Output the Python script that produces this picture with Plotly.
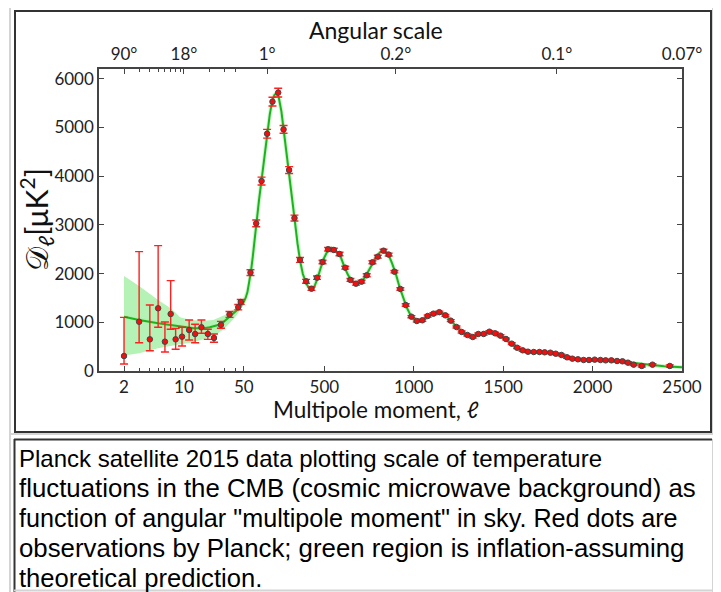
import numpy as np
import plotly.graph_objects as go

# ---------------- data ----------------
ell_low = [2, 3, 4, 5, 6, 7, 8, 9.5, 11.5, 13.5, 16, 19, 22.4, 27, 34, 43, 46]
D_low = [308, 1012, 650, 1287, 602, 1170, 650, 705, 842, 760, 897, 760, 678, 948, 1160, 1310, 1417]
err_low_up = [792, 1438, 705, 1286, 404, 685, 226, 192, 205, 199, 150, 96, 82, 70, 60, 55, 50]
err_low_dn = [164, 431, 233, 390, 212, 314, 205, 192, 205, 179, 123, 110, 88, 70, 60, 55, 50]

ell_high = [87, 119, 149, 180, 210, 242, 272, 303, 333, 364,
            398, 428, 459, 490, 521, 553, 585, 617, 646, 677,
            708, 737, 769, 799, 831, 860, 892, 925, 955, 987,
            1017, 1048, 1078, 1110, 1143, 1177, 1207, 1239, 1268, 1300,
            1330, 1361, 1391, 1423, 1455, 1485, 1516, 1548, 1578, 1609,
            1639, 1671, 1703, 1732, 1764, 1794, 1826, 1857, 1887, 1918,
            1950, 1980, 2012, 2044, 2073, 2105, 2137, 2167, 2198, 2230,
            2275, 2335, 2432]
D_high = [2020, 3030, 3900, 4870, 5530, 5715, 4960, 4125, 3140, 2280,
          1842, 1690, 1916, 2238, 2499, 2485, 2402, 2121, 1869, 1793,
          1834, 1965, 2232, 2347, 2470, 2390, 2039, 1684, 1355, 1115,
          1027, 1041, 1129, 1177, 1208, 1143, 1034, 903, 801, 739,
          698, 760, 760, 807, 774, 725, 657, 561, 478, 425,
          396, 390, 390, 384, 376, 355, 329, 281, 253, 240,
          226, 226, 233, 226, 219, 219, 205, 199, 171, 130,
          103, 130, 103]
err_high = [60, 70, 80, 90, 90, 90, 80, 70, 60, 50,
            40, 35, 35, 35, 35, 35, 35, 30, 30, 30,
            30, 30, 30, 30, 30, 30, 25, 25, 25, 22,
            22, 22, 22, 22, 22, 20, 20, 20, 20, 20,
            20, 20, 20, 20, 20, 20, 18, 18, 18, 18,
            18, 18, 18, 18, 18, 18, 18, 18, 18, 18,
            18, 18, 18, 18, 18, 18, 18, 18, 18, 18,
            20, 20, 22]

ell_th = [2, 3, 5, 7, 10, 13, 17, 20, 27, 34, 44, 50, 60, 70, 80, 90, 100, 110, 120, 135,
          150, 165, 180, 195, 210, 220, 230, 245, 260, 275, 290, 305, 320, 335, 350, 365, 380,
          400, 415, 430, 445, 460, 480, 500, 520, 540, 555, 570, 590, 610, 630, 650, 670, 690,
          710, 730, 750, 770, 790, 810, 825, 840, 860, 880, 900, 920, 940, 960, 980, 1000,
          1020, 1040, 1060, 1080, 1100, 1120, 1140, 1160, 1180, 1200, 1225, 1250, 1275, 1300,
          1325, 1350, 1375, 1400, 1425, 1450, 1475, 1500, 1530, 1560, 1590, 1620, 1650, 1680,
          1710, 1740, 1770, 1800, 1830, 1860, 1890, 1920, 1950, 1980, 2010, 2040, 2070, 2100,
          2130, 2160, 2190, 2220, 2250, 2300, 2350, 2400, 2450, 2500]
D_th = [1115, 1047, 979, 938, 903, 876, 876, 897, 958, 1115, 1287, 1423, 1500, 1620, 1800, 2050, 2350, 2700, 3070, 3520,
        3950, 4430, 4880, 5270, 5560, 5660, 5700, 5620, 5330, 4880, 4550, 4080, 3600, 3080, 2620, 2250, 1990,
        1790, 1700, 1680, 1740, 1880, 2120, 2330, 2480, 2520, 2500, 2440, 2360, 2160, 1990, 1860, 1800, 1790,
        1840, 1940, 2080, 2220, 2340, 2430, 2460, 2440, 2380, 2200, 1990, 1730, 1510, 1310, 1160, 1070,
        1030, 1040, 1080, 1130, 1170, 1200, 1210, 1190, 1140, 1060, 960, 860, 780, 730,
        710, 730, 770, 790, 790, 770, 730, 680, 600, 520, 450, 410, 390, 385,
        385, 380, 370, 350, 320, 285, 258, 240, 230, 228, 228, 225, 220, 213,
        205, 193, 178, 160, 145, 125, 110, 98, 88, 78]

band_ell = [2, 3, 5, 7, 8, 9, 12, 17, 22, 30, 40, 50]
band_hi = [1950, 1745, 1458, 1287, 1197, 1102, 1047, 1033, 1047, 1150, 1287, 1480]
band_lo = [320, 363, 466, 513, 534, 548, 581, 650, 705, 876, 1115, 1370]

x_tick_ell = [2, 10, 50, 500, 1000, 1500, 2000, 2500]
x_tick_text = ["2", "10", "50", "500", "1000", "1500", "2000", "2500"]
x_minor_ell = [3, 4, 5, 6, 7, 8, 9, 20, 30, 40]
top_tick_ell = [2, 10, 180, 900, 1800, 2500]
top_tick_text = ["90°", "18°", "1°", "0.2°", "0.1°", "0.07°"]
y_ticks = [0, 1000, 2000, 3000, 4000, 5000, 6000]

caption_lines = [
    "Planck satellite 2015 data plotting scale of temperature",
    "fluctuations in the CMB (cosmic microwave background) as",
    "function of angular \"multipole moment\" in sky. Red dots are",
    "observations by Planck; green region is inflation-assuming",
    "theoretical prediction.",
]

# ------------- hybrid log/linear x scale -------------
K = 479.3  # log-part stretch (units per decade)


def u(ell):
    ell = np.asarray(ell, dtype=float)
    return np.where(ell >= 50, ell, 50 + K * np.log10(ell / 50.0))


# ------------- layout geometry (page has an 8px body margin) -------------
W, H = 713, 584
L, T = 91, 61
PW, PH = 583, 302
R = W - L - PW
B = H - T - PH
X0, Y0 = 99, 371  # screen pixel of plot left / bottom


def px(x):
    return (x - X0) / PW


def py(y):
    return (Y0 - y) / PH


red = "#ff2020"
green = "#1db31d"
font_chart = "Lato"

fig = go.Figure()

# low-ell cosmic variance band
bx = list(u(band_ell)) + list(u(band_ell))[::-1]
by = band_hi + band_lo[::-1]
fig.add_trace(go.Scatter(x=bx, y=by, fill="toself", fillcolor="#b5f2b5",
                         line=dict(width=0), mode="lines", hoverinfo="skip"))

# faint glow around theory line
fig.add_trace(go.Scatter(x=u(ell_th), y=D_th, mode="lines",
                         line=dict(color="rgba(170,240,170,0.6)", width=4), hoverinfo="skip"))
fig.add_trace(go.Scatter(x=u(ell_th), y=D_th, mode="lines",
                         line=dict(color=green, width=2)))

marker = dict(color="#f01010", size=5.5, line=dict(color="#444444", width=1))
fig.add_trace(go.Scatter(
    x=u(ell_low), y=D_low, mode="markers", marker=marker,
    error_y=dict(type="data", symmetric=False, array=err_low_up, arrayminus=err_low_dn,
                 color=red, thickness=1.4, width=4)))
fig.add_trace(go.Scatter(
    x=u(ell_high), y=D_high, mode="markers", marker=marker,
    error_y=dict(type="data", array=err_high, color=red, thickness=1.4, width=4)))

# invisible trace to anchor the top axis
fig.add_trace(go.Scatter(x=[float(u(2))], y=[0], xaxis="x2", mode="markers",
                         marker=dict(opacity=0), hoverinfo="skip"))

xr = [-760, 2500]
axis_common = dict(showgrid=False, zeroline=False, showline=True, linecolor="#444",
                   linewidth=1.5, ticks="inside", tickcolor="#444", tickwidth=1,
                   tickfont=dict(family=font_chart, size=17, color="#222"))

fig.update_layout(
    width=W, height=H,
    margin=dict(l=L, r=R, t=T, b=B, pad=0),
    paper_bgcolor="white", plot_bgcolor="white",
    showlegend=False,
    xaxis=dict(range=xr, tickmode="array", tickvals=list(u(x_tick_ell)), ticktext=x_tick_text,
               ticklen=5,
               minor=dict(tickmode="array", tickvals=list(u(x_minor_ell)), ticks="inside",
                          ticklen=3, tickcolor="#444"),
               **axis_common),
    xaxis2=dict(range=xr, overlaying="x", side="top", tickmode="array",
                tickvals=list(u(top_tick_ell)), ticktext=top_tick_text, ticklen=5,
                minor=dict(tickmode="array", tickvals=list(u(x_minor_ell)), ticks="inside",
                           ticklen=3, tickcolor="#444"),
                **axis_common),
    yaxis=dict(range=[0, 6200], tickmode="array", tickvals=y_ticks, ticklen=5,
               mirror="ticks", **axis_common),
)

ann = [
    dict(text="Angular scale", x=px(376), y=py(30), font=dict(family=font_chart, size=23, color="#111")),
    dict(text="Multipole moment, ℓ", x=px(376), y=py(410), font=dict(family=font_chart, size=22.5, color="#111")),
    dict(text="𝒟<sub>ℓ</sub>[μK<sup>2</sup>]", x=px(36), y=py(220), textangle=-90,
         font=dict(family=font_chart, size=30, color="#111")),
]
caption_sizes = [24, 25.8, 25.2, 25.8, 25.6]
for i, line in enumerate(caption_lines):
    ann.append(dict(text=line, x=px(17), y=py(458 + 30 * i), xanchor="left",
                    font=dict(family="Liberation Sans", size=caption_sizes[i], color="#000")))
for a in ann:
    a.setdefault("xanchor", "center")
    fig.add_annotation(xref="paper", yref="paper", yanchor="middle", showarrow=False, **a)

# frame borders (picture frame + caption box)
light = "#d4d4d4"
dark = "#333333"
shapes = [
    dict(type="rect", x0=px(10), y0=py(6), x1=px(713), y1=py(434), line=dict(color=light, width=2)),
    dict(type="rect", x0=px(15), y0=py(11), x1=px(711), y1=py(432), line=dict(color=dark, width=2)),
    dict(type="line", x0=px(10), y0=py(434), x1=px(10), y1=py(592), line=dict(color=light, width=2)),
    dict(type="line", x0=px(14), y0=py(439.5), x1=px(712), y1=py(439.5), line=dict(color=dark, width=2)),
    dict(type="line", x0=px(14.5), y0=py(439), x1=px(14.5), y1=py(592), line=dict(color=dark, width=2)),
    dict(type="line", x0=px(713), y0=py(439), x1=px(713), y1=py(592), line=dict(color=light, width=2)),
    dict(type="line", x0=px(14), y0=py(590.5), x1=px(713), y1=py(590.5), line=dict(color=light, width=2)),
]
for s in shapes:
    fig.add_shape(xref="paper", yref="paper", layer="above", **s)

fig.write_html("out.html")
